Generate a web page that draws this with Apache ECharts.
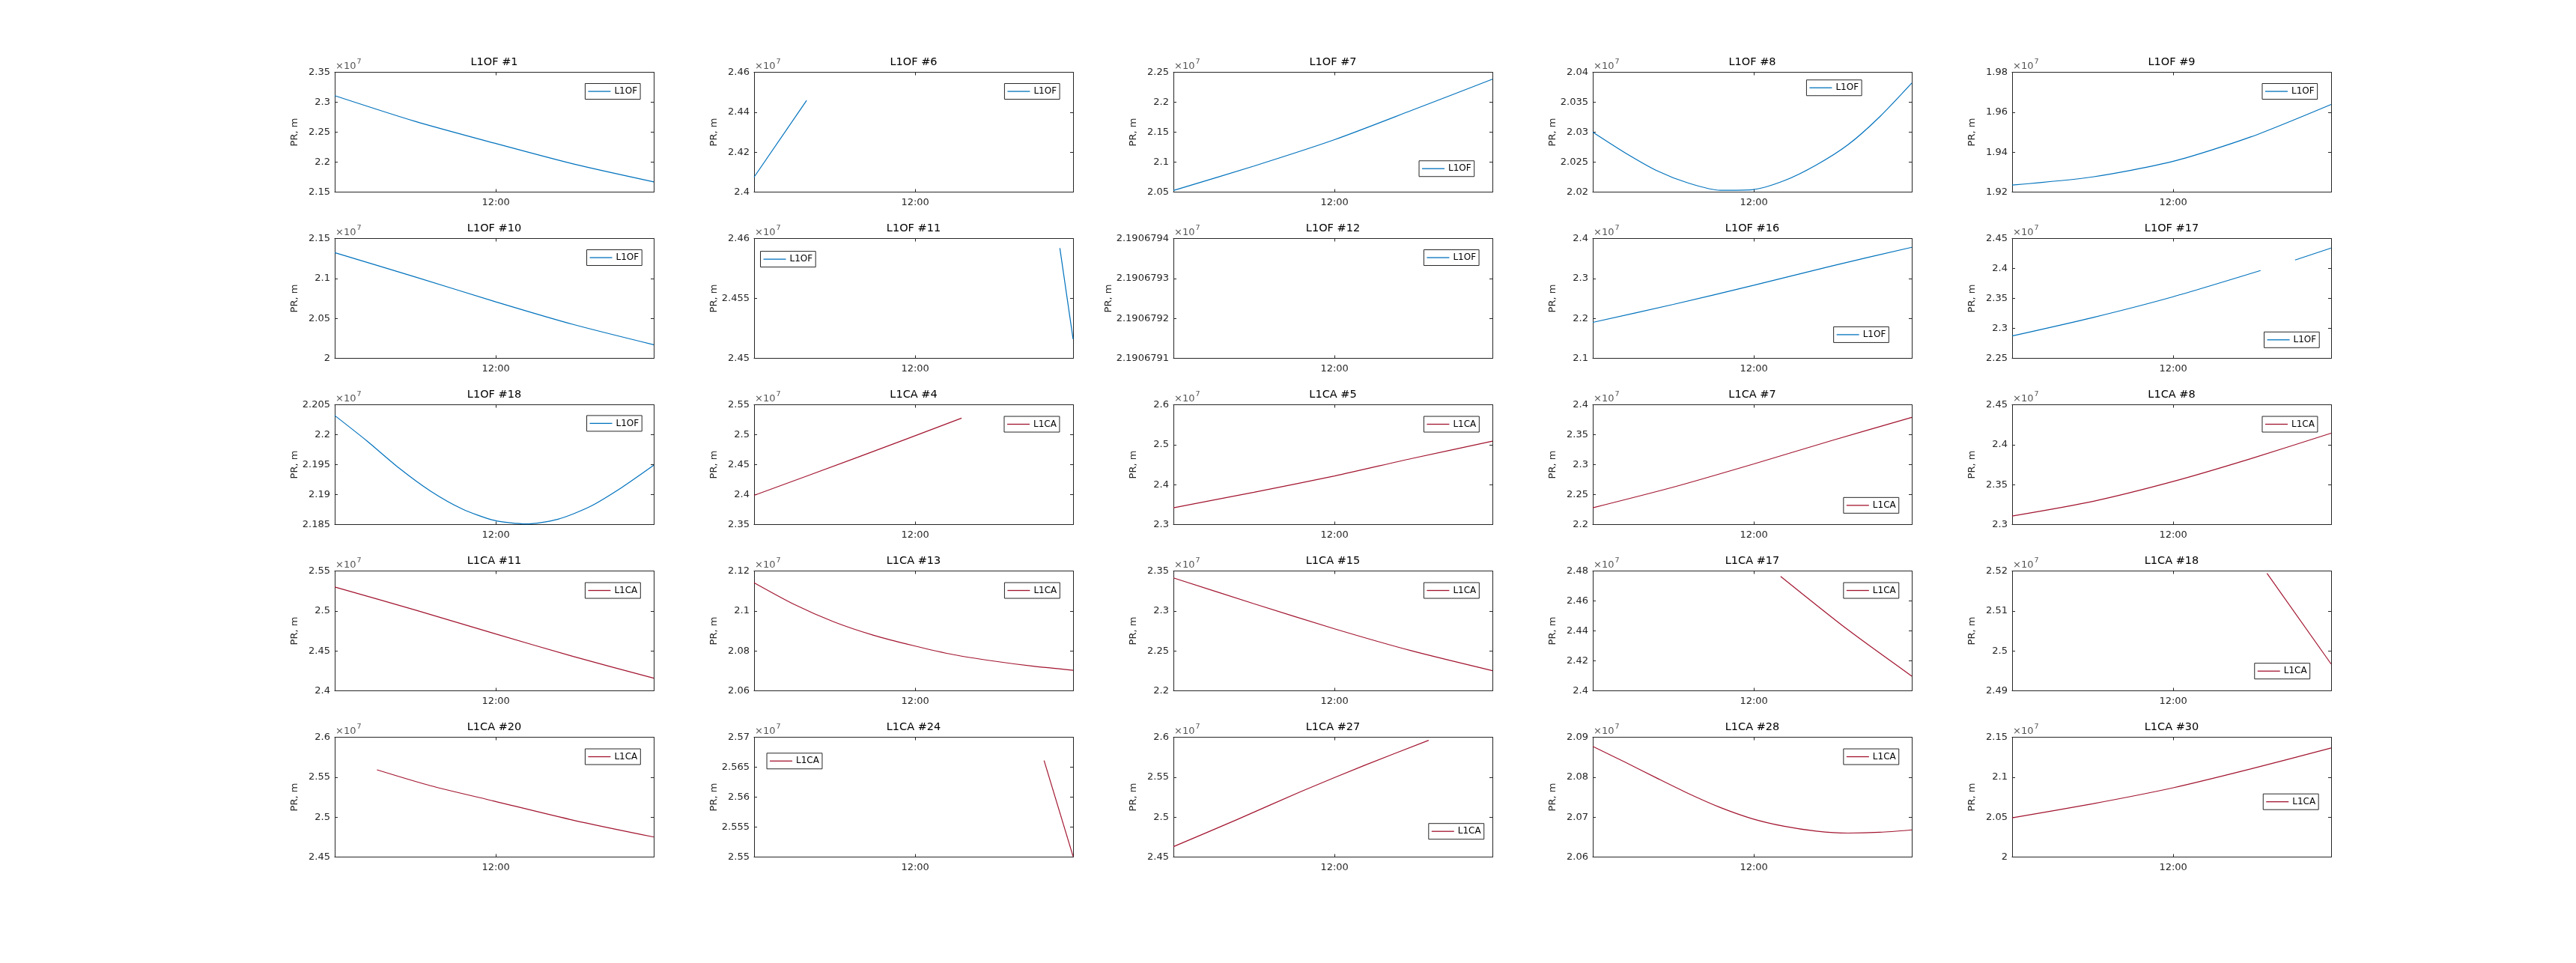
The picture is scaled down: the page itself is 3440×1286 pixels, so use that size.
<!DOCTYPE html>
<html>
<head>
<meta charset="utf-8">
<script src="https://cdn.jsdelivr.net/npm/echarts@6/dist/echarts.min.js"></script>
<style>
  html, body { margin: 0; padding: 0; background: #fff; }
  #chart { width: 3440px; height: 1286px; }
</style>
</head>
<body>
<div id="chart"></div>
<script>
// time in decimal hours
const T5 = [7.0, 9.5, 12.0, 14.4, 16.9]
const T9 = [7.0, 8.24, 9.48, 10.71, 11.95, 13.19, 14.43, 15.66, 16.9]
const T11 = [7.0, 7.99, 8.98, 9.97, 10.96, 11.95, 12.94, 13.93, 14.92, 15.91, 16.9]
const timeMin = 7.0
const timeMax = 16.9
const timeTicks = [12]

const signals = [
  'L1OF', 'L1OF', 'L1OF', 'L1OF', 'L1OF',
  'L1OF', 'L1OF', 'L1OF', 'L1OF', 'L1OF',
  'L1OF', 'L1CA', 'L1CA', 'L1CA', 'L1CA',
  'L1CA', 'L1CA', 'L1CA', 'L1CA', 'L1CA',
  'L1CA', 'L1CA', 'L1CA', 'L1CA', 'L1CA'
]
const sats = [1, 6, 7, 8, 9, 10, 11, 12, 16, 17, 18, 4, 5, 7, 8, 11, 13, 15, 17, 18, 20, 24, 27, 28, 30]

// y limits, metres
const yMin = [21500000, 24000000, 20500000, 20200000, 19200000,
  20000000, 24500000, 21906791, 21000000, 22500000,
  21850000, 23500000, 23000000, 22000000, 23000000,
  24000000, 20600000, 22000000, 24000000, 24900000,
  24500000, 25500000, 24500000, 20600000, 20000000]
const yMax = [23500000, 24600000, 22500000, 20400000, 19800000,
  21500000, 24600000, 21906794, 24000000, 24500000,
  22050000, 25500000, 26000000, 24000000, 24500000,
  25500000, 21200000, 23500000, 24800000, 25200000,
  26000000, 25700000, 26000000, 20900000, 21500000]
const yStep = [500000, 200000, 500000, 50000, 200000,
  500000, 50000, 1, 1000000, 500000,
  50000, 500000, 1000000, 500000, 500000,
  500000, 200000, 500000, 200000, 100000,
  500000, 50000, 500000, 100000, 500000]

// pseudorange values, metres
const pr_of1 = [2.311e7, 2.268e7, 2.231e7, 2.197e7, 2.167e7]
const t_of6 = [7.0, 8.63]
const pr_of6 = [2.4075e7, 2.4459e7]
const pr_of7 = [2.0526e7, 2.0935e7, 2.1375e7, 2.1865e7, 2.2384e7]
const pr_of8 = [2.030e7, 2.0266e7, 2.0236e7, 2.0215e7, 2.0203e7, 2.0204e7, 2.0219e7, 2.0245e7, 2.0279e7, 2.0326e7, 2.0382e7]
const pr_of9 = [1.9235e7, 1.9276e7, 1.9354e7, 1.9476e7, 1.9639e7]
const pr_of10 = [2.1323e7, 2.1018e7, 2.0707e7, 2.0424e7, 2.017e7]
const t_of11 = [16.49, 16.9]
const pr_of11 = [2.4592e7, 2.4516e7]
const t_of12 = []
const pr_of12 = []
const pr_of16 = [2.19e7, 2.235e7, 2.283e7, 2.331e7, 2.378e7]
const t_of17 = [7.0, 9.5, 12.0, 14.71, 15.2, 15.78, 16.9]
const pr_of17 = [2.2873e7, 2.318e7, 2.3528e7, 2.3965e7, null, 2.414e7, 2.434e7]
const pr_of18 = [2.2032e7, 2.199e7, 2.1945e7, 2.1906e7, 2.1876e7, 2.1857e7, 2.1851e7, 2.1859e7, 2.188e7, 2.1912e7, 2.1949e7]
const t_ca4 = [7.0, 10.2, 13.44]
const pr_ca4 = [2.3987e7, 2.462e7, 2.5276e7]
const pr_ca5 = [2.342e7, 2.381e7, 2.4216e7, 2.4655e7, 2.5088e7]
const pr_ca7 = [2.228e7, 2.2625e7, 2.3013e7, 2.340e7, 2.3789e7]
const pr_ca8 = [2.3107e7, 2.329e7, 2.354e7, 2.3824e7, 2.4144e7]
const pr_ca11 = [2.53e7, 2.5012e7, 2.4711e7, 2.443e7, 2.4158e7]
const pr_ca13 = [2.1141e7, 2.1033e7, 2.0945e7, 2.0878e7, 2.0826e7, 2.0781e7, 2.0749e7, 2.0723e7, 2.0703e7]
const pr_ca15 = [2.3413e7, 2.309e7, 2.2776e7, 2.25e7, 2.2252e7]
const t_ca17 = [12.83, 14.92, 16.9]
const pr_ca17 = [2.4764e7, 2.4407e7, 2.4098e7]
const t_ca18 = [14.91, 16.9]
const pr_ca18 = [2.5194e7, 2.4967e7]
const t_ca20 = [8.31, 9.97, 11.95, 14.43, 16.9]
const pr_ca20 = [2.5592e7, 2.5393e7, 2.52e7, 2.4959e7, 2.4751e7]
const t_ca24 = [16.0, 16.9]
const pr_ca24 = [2.5661e7, 2.5501e7]
const t_ca27 = [7.0, 8.98, 10.96, 12.94, 14.92]
const pr_ca27 = [2.463e7, 2.497e7, 2.532e7, 2.565e7, 2.5961e7]
const pr_ca28 = [2.0877e7, 2.0838e7, 2.0798e7, 2.0759e7, 2.0724e7, 2.0696e7, 2.0677e7, 2.0665e7, 2.066e7, 2.0662e7, 2.0668e7]
const pr_ca30 = [2.0491e7, 2.0667e7, 2.0867e7, 2.1102e7, 2.1365e7]

const panelTimes = [T5, t_of6, T5, T11, T5, T5, t_of11, t_of12, T5, t_of17,
  T11, t_ca4, T5, T5, T5, T5, T9, T5, t_ca17, t_ca18, t_ca20, t_ca24, t_ca27, T11, T5]
const panelValues = [pr_of1, pr_of6, pr_of7, pr_of8, pr_of9, pr_of10, pr_of11, pr_of12, pr_of16, pr_of17,
  pr_of18, pr_ca4, pr_ca5, pr_ca7, pr_ca8, pr_ca11, pr_ca13, pr_ca15, pr_ca17, pr_ca18, pr_ca20, pr_ca24, pr_ca27, pr_ca28, pr_ca30]

// legend box position, fraction of the axes box (left, top)
const legendFx = [0.785, 0.785, 0.77, 0.67, 0.784, 0.79, 0.02, 0.785, 0.755, 0.79,
  0.79, 0.784, 0.785, 0.786, 0.784, 0.785, 0.785, 0.785, 0.786, 0.76, 0.785, 0.04, 0.8, 0.786, 0.787]
const legendFy = [0.094, 0.094, 0.739, 0.064, 0.094, 0.094, 0.107, 0.094, 0.737, 0.78,
  0.09, 0.097, 0.097, 0.774, 0.097, 0.097, 0.097, 0.097, 0.097, 0.77, 0.097, 0.133, 0.72, 0.097, 0.473]

const colors = { L1OF: '#0072BD', L1CA: '#A2142F' }
const FONT = 'DejaVu Sans'
const AX = '#262626'

// MATLAB subplot(5,5) geometry
const boxW = 426
const boxH = 160
const boxLeft = c => 447 + c * 560
const boxTop = r => 96.5 + r * 222

const fmtTime = h => {
  const hh = Math.floor(h)
  const mm = Math.round((h - hh) * 60)
  return String(hh).padStart(2, '0') + ':' + String(mm).padStart(2, '0')
}
const fmtPR = v => String(parseFloat((v / 1e7).toFixed(8)))

const grid = []
const xAxis = []
const yAxis = []
const series = []
const title = []
const legend = []

signals.forEach((sig, i) => {
  const r = Math.floor(i / 5)
  const c = i % 5
  const left = boxLeft(c)
  const top = boxTop(r)
  const lineStyle = { color: AX, width: 1 }

  grid.push({ left, top, width: boxW, height: boxH, outerBoundsMode: 'none' })

  const xBase = {
    type: 'value', gridIndex: i, min: timeMin, max: timeMax,
    axisLine: { show: true, onZero: false, lineStyle },
    axisTick: { show: true, inside: true, length: 4, customValues: timeTicks, lineStyle },
    splitLine: { show: false }
  }
  xAxis.push(Object.assign({}, xBase, {
    position: 'bottom',
    axisLabel: { customValues: timeTicks, formatter: fmtTime, margin: 8, color: AX, fontSize: 13, fontFamily: FONT }
  }))
  xAxis.push(Object.assign({}, xBase, { position: 'top', axisLabel: { show: false } }))

  const yBase = {
    type: 'value', gridIndex: i, min: yMin[i], max: yMax[i], interval: yStep[i],
    axisLine: { show: true, onZero: false, lineStyle },
    axisTick: { show: true, inside: true, length: 4, lineStyle },
    splitLine: { show: false }
  }
  yAxis.push(Object.assign({}, yBase, {
    position: 'left',
    axisLabel: { formatter: fmtPR, margin: 6, color: AX, fontSize: 13, fontFamily: FONT },
    name: 'PR, m', nameLocation: 'middle', nameGap: 47,
    nameTextStyle: { color: AX, fontSize: 13, fontFamily: FONT }
  }))
  yAxis.push(Object.assign({}, yBase, { position: 'right', axisLabel: { show: false } }))

  const t = panelTimes[i]
  const data = panelValues[i].map((v, k) => [t[k], v === null ? '-' : v])
  series.push({
    type: 'line', name: sig, xAxisIndex: 2 * i, yAxisIndex: 2 * i, data,
    symbol: 'none', smooth: 0.25,
    lineStyle: { color: colors[sig], width: 1.2 }, itemStyle: { color: colors[sig] }
  })

  title.push({
    text: sig + ' #' + sats[i], left: left + boxW / 2, top: top - 21, textAlign: 'center', padding: 0,
    textStyle: { fontSize: 14.5, fontWeight: 'normal', color: '#000', fontFamily: FONT }
  })
  title.push({
    text: '{a|×10}{b|7}', left: left + 1, top: top - 19, padding: 0,
    textStyle: {
      rich: {
        a: { fontSize: 13, fontWeight: 'normal', color: '#555', fontFamily: FONT, lineHeight: 18, verticalAlign: 'bottom' },
        b: { fontSize: 9.5, fontWeight: 'normal', color: '#555', fontFamily: FONT, lineHeight: 18, verticalAlign: 'top', padding: [0, 0, 6, 1] }
      }
    }
  })

  legend.push({
    data: [sig], left: left + legendFx[i] * boxW, top: top + legendFy[i] * boxH,
    orient: 'horizontal', selectedMode: false,
    icon: 'rect', itemWidth: 30, itemHeight: 1.3, itemGap: 0,
    padding: [4, 4, 4, 4],
    borderColor: AX, borderWidth: 1, borderRadius: 0, backgroundColor: '#fff',
    textStyle: { fontSize: 12, color: '#000', fontFamily: FONT, lineHeight: 13 }
  })
})

const chart = echarts.init(document.getElementById('chart'))
chart.setOption({
  animation: false,
  backgroundColor: '#fff',
  title,
  legend,
  grid,
  xAxis,
  yAxis,
  series
})
</script>
</body>
</html>
